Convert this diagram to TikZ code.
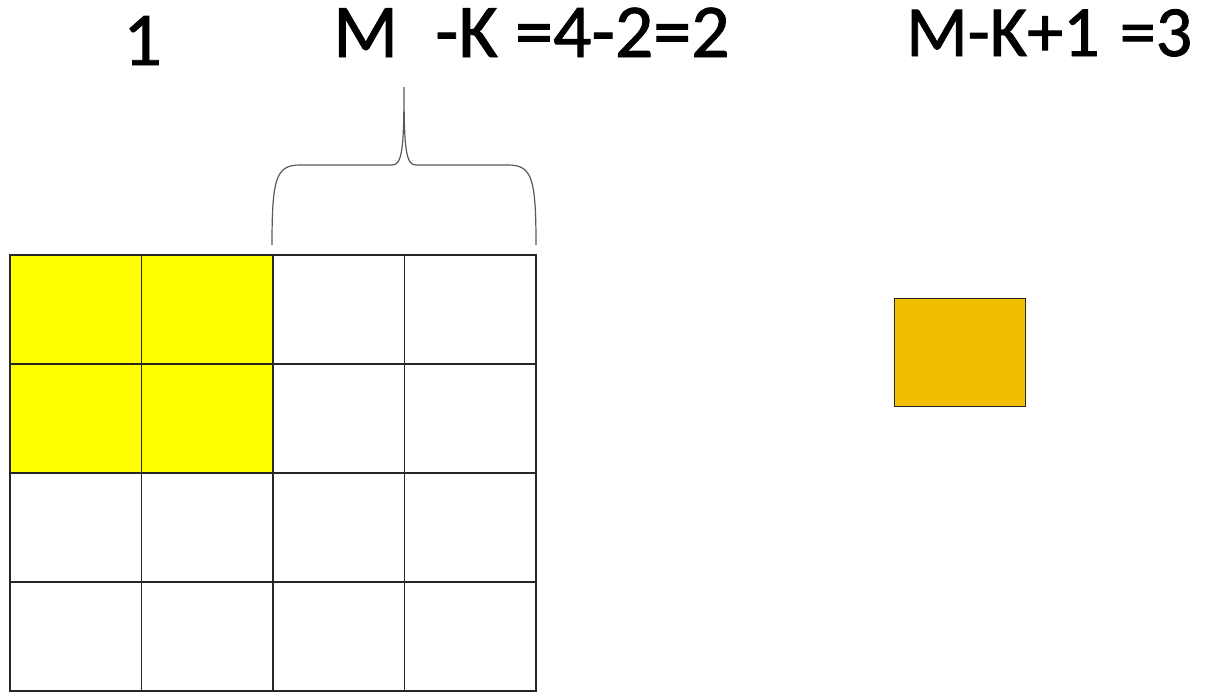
\documentclass[tikz,border=0pt]{standalone}
\usepackage{fontspec}
\setmainfont{Carlito}[FakeBold=1.2]
\begin{document}
\begin{tikzpicture}[x=1pt,y=-1pt,
  cell/.style={draw=black!85,line width=1.4pt},
  lbl/.style={inner sep=0pt,anchor=base west,font=\fontsize{76}{80}\selectfont},
  bracepath/.style={draw=black!65,line width=1.2pt}]
\useasboundingbox (0,0) rectangle (1223,694);
% grid cells
\foreach \r in {0,1,2,3}{
  \foreach \c in {0,1,2,3}{
    \pgfmathsetmacro{\xa}{10+\c*131.5}
    \pgfmathsetmacro{\ya}{255+\r*109}
    \pgfmathtruncatemacro{\yel}{(\r<2)&&(\c<2)}
    \ifnum\yel=1
      \path[cell,fill={rgb,255:red,255;green,255;blue,0}] (\xa,\ya) rectangle ++(131.5,109);
    \else
      \path[cell,fill=white] (\xa,\ya) rectangle ++(131.5,109);
    \fi
  }
}
% output cell
\node[cell,fill={rgb,255:red,242;green,191;blue,0},minimum width=131pt,minimum height=108pt,inner sep=0pt,anchor=north west] (out) at (894,298) {};
% brace
\draw[bracepath] (272,245) .. controls (272,178) and (276,165) .. (300,165) -- (392,165)
  .. controls (402,165) and (404,150) .. (404,87)
  .. controls (404,150) and (406,165) .. (416,165) -- (508,165)
  .. controls (532,165) and (536,178) .. (536,245);
% labels
\node[lbl] (one) at (123,65) {1};
\node[lbl] (m) at (333,57) {M};
\node[lbl] (mk) at (435,57) {-K =4-2=2};
\node[lbl,font=\fontsize{72}{76}\selectfont] (res) at (906,56) {M-K+1\hspace{4pt} =3};
\end{tikzpicture}
\end{document}
